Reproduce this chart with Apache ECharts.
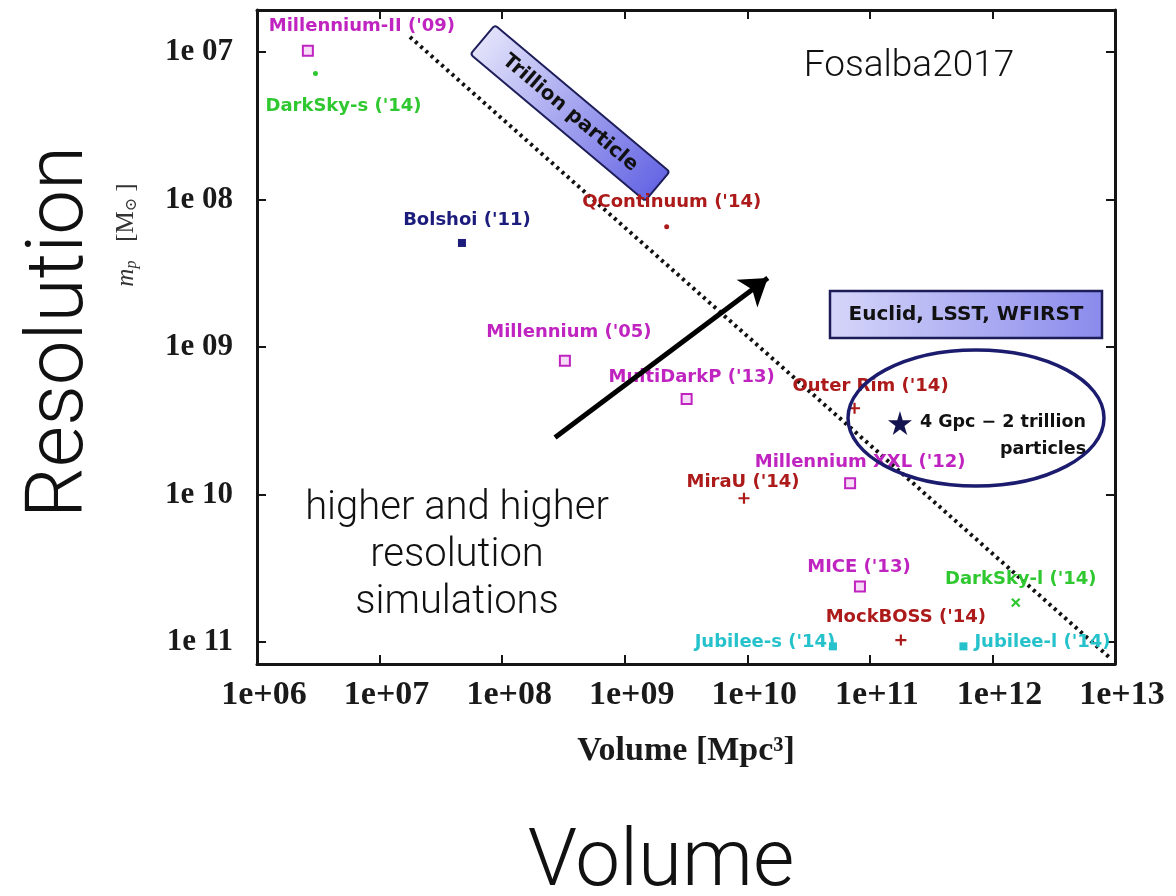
<!DOCTYPE html>
<html>
<head>
<meta charset="utf-8">
<script src="https://cdn.jsdelivr.net/npm/echarts@6/dist/echarts.min.js"></script>
<style>
  html, body { margin: 0; padding: 0; background: #ffffff; }
  #chart { width: 1176px; height: 896px; }
</style>
</head>
<body>
<div id="chart"></div>
<script>
// N-body simulations: comoving box volume [Mpc^3] against particle mass [M_sun]
const simNames = [
  "Millennium-II ('09)", "DarkSky-s ('14)", "Bolshoi ('11)", "QContinuum ('14)",
  "Millennium ('05)", "MultiDarkP ('13)", "Outer Rim ('14)", "Millennium XXL ('12)",
  "MiraU ('14)", "MICE ('13)", "DarkSky-l ('14)", "MockBOSS ('14)",
  "Jubilee-s ('14)", "Jubilee-l ('14)"
];
const simVolume = [2.6e6, 3.0e6, 4.7e7, 2.2e9, 3.25e8, 3.2e9, 7.5e10, 6.9e10, 9.4e9, 8.3e10, 1.55e12, 1.79e11, 5.0e10, 5.8e11];
const simMass   = [9.8e6, 1.4e7, 1.97e8, 1.53e8, 1.24e9, 2.25e9, 2.6e9, 8.4e9, 1.06e10, 4.2e10, 5.4e10, 9.7e10, 1.07e11, 1.07e11];

// the planned 4 Gpc, 2 trillion particle run
const runLabel = ['4 Gpc \u2212 2 trillion', 'particles'];
const runVolume = [1.76e11];
const runMass = [3.27e9];

// one-trillion-particle guide line
const trillionVolume = [1.77e7, 8.9e12];
const trillionMass = [7.9e6, 1.26e11];

// "higher resolution" arrow
const arrowVolume = [2.7e8, 1.47e10];
const arrowMass = [4.1e9, 3.4e8];

// axis decades
const xDecades = [6, 7, 8, 9, 10, 11, 12, 13];
const yDecades = [7, 8, 9, 10, 11];

// ---- styling ----
const palette = {
  mag: '#c024c0', green: '#30c830', navy: '#1c1c7c', red: '#ac1a1a', cyan: '#26c2cc'
};
const plusPath = 'path://M4,0H6V4H10V6H6V10H4V6H0V4H4Z';
const starPath = 'path://M50,0L61,35L98,35L68,57L79,91L50,70L21,91L32,57L2,35L39,35Z';

const markerLook = {
  "Millennium-II ('09)": { c: 'mag', kind: 'open', off: [54, -24] },
  "DarkSky-s ('14)":     { c: 'green', kind: 'dot', off: [28, 33] },
  "Bolshoi ('11)":       { c: 'navy', kind: 'filled', off: [5, -23] },
  "QContinuum ('14)":    { c: 'red', kind: 'dot', off: [5, -24] },
  "Millennium ('05)":    { c: 'mag', kind: 'open', off: [4, -28] },
  "MultiDarkP ('13)":    { c: 'mag', kind: 'open', off: [5, -22] },
  "Outer Rim ('14)":     { c: 'red', kind: 'plus', off: [16, -22] },
  "Millennium XXL ('12)":{ c: 'mag', kind: 'open', off: [10, -21] },
  "MiraU ('14)":         { c: 'red', kind: 'plus', off: [-1, -16] },
  "MICE ('13)":          { c: 'mag', kind: 'open', off: [-1, -19] },
  "DarkSky-l ('14)":     { c: 'green', kind: 'cross', off: [5, -23] },
  "MockBOSS ('14)":      { c: 'red', kind: 'plus', off: [5, -23] },
  "Jubilee-s ('14)":     { c: 'cyan', kind: 'filled', off: [-68, -4] },
  "Jubilee-l ('14)":     { c: 'cyan', kind: 'filled', off: [79, -4] }
};

function symbolFor(kind, color) {
  switch (kind) {
    case 'open':   return { symbol: 'rect', symbolSize: 10, itemStyle: { color: '#f6dcf6', borderColor: color, borderWidth: 2, opacity: 1 } };
    case 'filled': return { symbol: 'rect', symbolSize: 8, itemStyle: { color: color, opacity: 1 } };
    case 'dot':    return { symbol: 'circle', symbolSize: 5, itemStyle: { color: color, opacity: 1 } };
    case 'plus':   return { symbol: plusPath, symbolSize: 11, itemStyle: { color: color, opacity: 1 } };
    case 'cross':  return { symbol: plusPath, symbolSize: 11, symbolRotate: 45, itemStyle: { color: color, opacity: 1 } };
  }
}

const simData = simNames.map((name, i) => {
  const look = markerLook[name];
  const color = palette[look.c];
  const sym = symbolFor(look.kind, color);
  return Object.assign({
    name: name,
    value: [simVolume[i], simMass[i]],
    label: {
      show: true, position: 'inside', offset: look.off, formatter: name,
      color: color, textBorderWidth: 0, opacity: 1,
      fontFamily: '"DejaVu Sans", sans-serif', fontWeight: 'bold', fontSize: 18
    }
  }, sym);
});

function decadeOf(v) {
  const l = Math.log10(v);
  const e = Math.round(l);
  return Math.abs(l - e) < 1e-6 ? e : null;
}
const pad2 = (e) => String(e).padStart(2, '0');

const serif = '"Liberation Serif", "DejaVu Serif", serif';
const frameColor = '#151515';

const baseAxis = {
  type: 'log', logBase: 10,
  axisLine: { show: true, onZero: false, lineStyle: { color: frameColor, width: 3 } },
  axisTick: { show: true, inside: true, length: 9, lineStyle: { color: frameColor, width: 2 } },
  splitLine: { show: false },
  minorTick: { show: false }
};

const chart = echarts.init(document.getElementById('chart'), null, { renderer: 'canvas' });

chart.setOption({
  backgroundColor: '#ffffff',
  animation: false,
  grid: { left: 257, top: 10, width: 858, height: 654, outerBoundsMode: 'none', containLabel: false },
  xAxis: [
    Object.assign({}, baseAxis, {
      position: 'bottom',
      min: Math.pow(10, xDecades[0]), max: Math.pow(10, xDecades[xDecades.length - 1]),
      axisLabel: {
        margin: 14, padding: [0, 0, 0, 14],
        fontFamily: serif, fontSize: 34, fontWeight: 'bold', color: '#1a1a1a',
        formatter: (v) => { const e = decadeOf(v); return (e !== null && xDecades.includes(e)) ? '1e+' + pad2(e) : ''; }
      },
      name: 'Volume [Mpc\u00B3]', nameLocation: 'middle', nameGap: 70,
      nameTextStyle: { fontFamily: serif, fontSize: 34, fontWeight: 'bold', color: '#1a1a1a' }
    }),
    Object.assign({}, baseAxis, {
      position: 'top',
      min: Math.pow(10, xDecades[0]), max: Math.pow(10, xDecades[xDecades.length - 1]),
      axisLabel: { show: false }
    })
  ],
  yAxis: [
    Object.assign({}, baseAxis, {
      position: 'left', inverse: true,
      min: Math.pow(10, 6.715), max: Math.pow(10, 11.149),
      axisLabel: {
        margin: 24,
        fontFamily: serif, fontSize: 31, fontWeight: 'bold', color: '#1a1a1a',
        formatter: (v) => { const e = decadeOf(v); return (e !== null && yDecades.includes(e)) ? '1e ' + pad2(e) : ''; }
      }
    }),
    Object.assign({}, baseAxis, {
      position: 'right', inverse: true,
      min: Math.pow(10, 6.715), max: Math.pow(10, 11.149),
      axisLabel: { show: false }
    })
  ],
  series: [
    {
      name: 'trillion particles', type: 'line', xAxisIndex: 0, yAxisIndex: 0,
      data: trillionVolume.map((v, i) => [v, trillionMass[i]]),
      symbol: 'none', z: 3,
      lineStyle: { color: '#111', width: 4, type: [3, 4] }
    },
    {
      name: 'simulations', type: 'scatter', xAxisIndex: 0, yAxisIndex: 0, z: 4,
      itemStyle: { opacity: 1 },
      data: simData
    },
    {
      name: '4 Gpc run', type: 'scatter', xAxisIndex: 0, yAxisIndex: 0, z: 5,
      symbol: starPath, symbolSize: 24,
      itemStyle: { color: '#141450', opacity: 1 },
      data: runVolume.map((v, i) => [v, runMass[i]]),
      label: {
        show: true, position: 'right', distance: 8, offset: [0, 13],
        formatter: '{a|' + runLabel[0] + '}\n{b|' + runLabel[1] + '}',
        rich: {
          a: { fontFamily: '"DejaVu Sans", sans-serif', fontWeight: 'bold', fontSize: 17.5, color: '#111', lineHeight: 27, align: 'left' },
          b: { fontFamily: '"DejaVu Sans", sans-serif', fontWeight: 'bold', fontSize: 17.5, color: '#111', lineHeight: 27, align: 'right' }
        }
      }
    },
    {
      name: 'resolution trend', type: 'lines', coordinateSystem: 'cartesian2d',
      xAxisIndex: 0, yAxisIndex: 0, z: 6,
      symbol: ['none', 'arrow'], symbolSize: 26,
      lineStyle: { color: '#000', width: 5, opacity: 1 },
      data: [{ coords: arrowVolume.map((v, i) => [v, arrowMass[i]]) }]
    }
  ],
  graphic: [
    {
      type: 'group', x: 570, y: 113, rotation: -40 * Math.PI / 180, z: 20,
      children: [
        {
          type: 'rect', shape: { x: -114, y: -19, width: 228, height: 38, r: 3 },
          style: {
            fill: new echarts.graphic.LinearGradient(0, 0, 1, 0, [
              { offset: 0, color: '#e2e2fb' }, { offset: 1, color: '#6666e4' }
            ]),
            stroke: '#1e1e5a', lineWidth: 2
          }
        },
        {
          type: 'text', x: 0, y: 0,
          style: {
            text: 'Trillion particle', font: 'bold 20px "DejaVu Sans", sans-serif', fill: '#111',
            align: 'center', verticalAlign: 'middle', textAlign: 'center', textVerticalAlign: 'middle'
          }
        }
      ]
    },
    {
      type: 'group', x: 830, y: 291, z: 20,
      children: [
        {
          type: 'rect', shape: { x: 0, y: 0, width: 272, height: 47 },
          style: {
            fill: new echarts.graphic.LinearGradient(0, 0, 1, 0, [
              { offset: 0, color: '#d6d6fa' }, { offset: 1, color: '#8a8aec' }
            ]),
            stroke: '#1c1c58', lineWidth: 2.5
          }
        },
        {
          type: 'text', x: 136, y: 24,
          style: {
            text: 'Euclid, LSST, WFIRST', font: 'bold 20px "DejaVu Sans", sans-serif', fill: '#111',
            align: 'center', verticalAlign: 'middle', textAlign: 'center', textVerticalAlign: 'middle'
          }
        }
      ]
    },
    {
      type: 'ellipse', z: 21,
      shape: { cx: 976, cy: 418, rx: 128, ry: 68 },
      style: { fill: 'none', stroke: '#1c1c6e', lineWidth: 3.5 }
    },
    {
      type: 'text', x: 126, y: 235, rotation: Math.PI / 2, z: 20,
      style: {
        text: '{i|m}{s|p}   [M{s|\u2299} ]',
        fill: '#333',
        align: 'center', verticalAlign: 'middle', textAlign: 'center', textVerticalAlign: 'middle',
        rich: {
          i: { fontFamily: serif, fontStyle: 'italic', fontSize: 25, fill: '#333', color: '#333' },
          s: { fontFamily: serif, fontStyle: 'italic', fontSize: 16, fill: '#333', color: '#333', verticalAlign: 'bottom', padding: [11, 0, 0, 0] }
        },
        font: '25px ' + serif
      }
    },
    {
      type: 'text', x: 62, y: 332, rotation: Math.PI / 2, z: 20,
      style: {
        text: 'Resolution', font: '300 80px Roboto, "Open Sans", sans-serif', fill: '#111',
        align: 'center', verticalAlign: 'middle', textAlign: 'center', textVerticalAlign: 'middle'
      }
    },
    {
      type: 'text', x: 661, y: 865, z: 20,
      style: {
        text: 'Volume', font: '300 80px Roboto, "Open Sans", sans-serif', fill: '#111',
        align: 'center', verticalAlign: 'middle', textAlign: 'center', textVerticalAlign: 'middle'
      }
    },
    {
      type: 'text', x: 909, y: 67, z: 20,
      style: {
        text: 'Fosalba2017', font: '300 37px Roboto, "Open Sans", sans-serif', fill: '#111',
        align: 'center', verticalAlign: 'middle', textAlign: 'center', textVerticalAlign: 'middle'
      }
    },
    {
      type: 'text', x: 457, y: 556, z: 20,
      style: {
        text: 'higher and higher\nresolution\nsimulations', font: '300 40px Roboto, "Open Sans", sans-serif',
        fill: '#111', lineHeight: 47,
        align: 'center', verticalAlign: 'middle', textAlign: 'center', textVerticalAlign: 'middle'
      }
    }
  ]
});
</script>
</body>
</html>
